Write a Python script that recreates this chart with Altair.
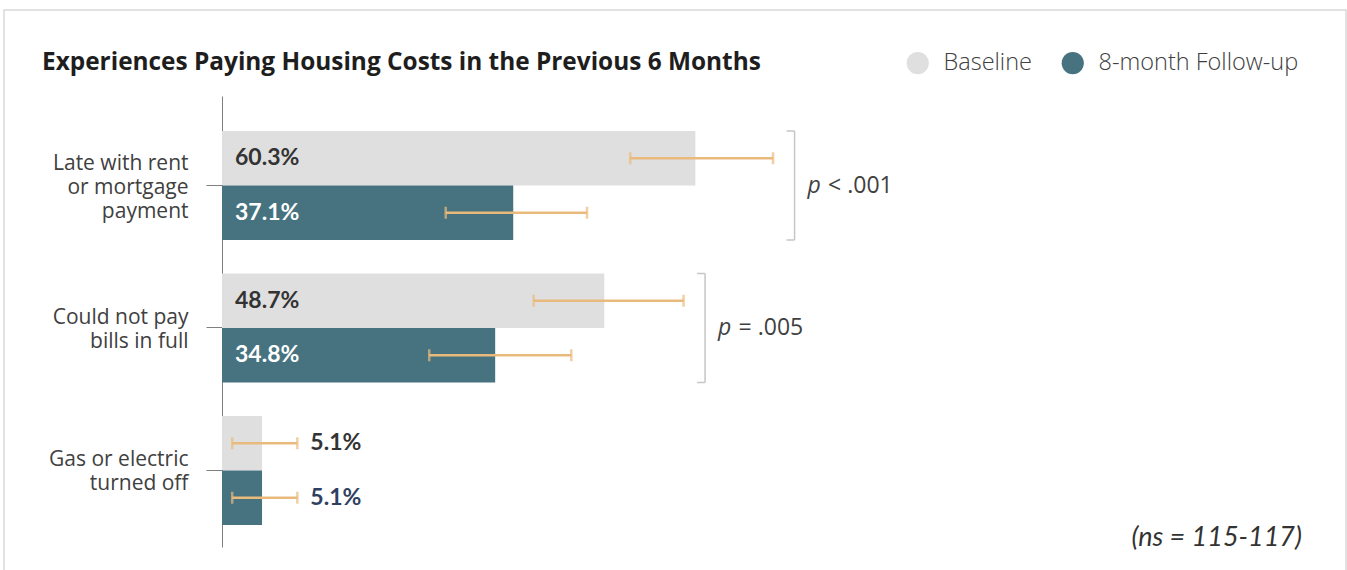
import altair as alt
import pandas as pd

# ---- data -------------------------------------------------------------
categories = [
    "Late with rent\nor mortgage\npayment",
    "Could not pay\nbills in full",
    "Gas or electric\nturned off",
]
series = ["Baseline", "8-month Follow-up"]

baseline = [60.3, 48.7, 5.1]
baseline_low = [52.0, 39.7, 1.3]
baseline_high = [70.2, 58.8, 9.6]

followup = [37.1, 34.8, 5.1]
followup_low = [28.5, 26.4, 1.3]
followup_high = [46.5, 44.5, 9.6]

p_values = ["< .001", "= .005", ""]

title_text = "Experiences Paying Housing Costs in the Previous 6 Months"
note_text = "(ns = 115-117)"

# ---- tables -----------------------------------------------------------
rows = []
for i, cat in enumerate(categories):
    rows.append(dict(category=cat, series=series[0], value=baseline[i],
                     low=baseline_low[i], high=baseline_high[i]))
    rows.append(dict(category=cat, series=series[1], value=followup[i],
                     low=followup_low[i], high=followup_high[i]))
bars_df = pd.DataFrame(rows)

brackets_df = pd.DataFrame([
    dict(category=cat, edge=max(baseline_high[i], followup_high[i]), p=p_values[i])
    for i, cat in enumerate(categories) if p_values[i]
])

one_row = pd.DataFrame({"k": [0]})

# ---- styling ----------------------------------------------------------
GRAY_BAR = "#DFDFDF"
TEAL_BAR = "#46737F"
ERR = "#E9BA7C"
BRACKET = "#C6C6C6"
TEXT = "#404040"
LINE_H = 24

W, H = 785, 451
PAD = {"left": 222, "top": 96, "right": 1347 - 222 - W, "bottom": 570 - 96 - H}

x_scale = alt.Scale(domain=[0, 100])
y_scale = alt.Scale(domain=categories, paddingInner=0.235, paddingOuter=0.2, align=0.614)
y_axis = alt.Axis(
    title=None, grid=False,
    domainColor="#7F7F7F", domainWidth=1,
    tickColor="#7F7F7F", tickWidth=1, tickSize=16,
    labelPadding=18, labelFont="Open Sans", labelFontSize=21,
    labelColor=TEXT, labelLineHeight=LINE_H, labelLimit=300,
    labelExpr="split(datum.label, '\\n')",
    # centre multi-line labels on their tick
    labelOffset={"expr": f"2 - (length(split(datum.label, '\\n')) - 1) * {LINE_H / 2}"},
)


def y_enc(band=None):
    if band is None:
        return alt.Y("category:N", sort=categories, scale=y_scale, axis=y_axis)
    return alt.Y("category:N", sort=categories, scale=y_scale, axis=y_axis, bandPosition=band)


y_off = alt.YOffset("series:N", sort=series,
                    scale=alt.Scale(domain=series, paddingInner=0, paddingOuter=0))

base = alt.Chart(bars_df)

bars = base.mark_bar().encode(
    x=alt.X("value:Q", scale=x_scale, axis=None),
    y=y_enc(),
    yOffset=y_off,
    color=alt.Color(
        "series:N", sort=series,
        scale=alt.Scale(domain=series, range=[GRAY_BAR, TEAL_BAR]),
        legend=alt.Legend(
            orient="none", legendX=684, legendY=-45, direction="horizontal",
            title=None, symbolType="circle", symbolSize=490, symbolStrokeWidth=0,
            symbolOpacity=1, labelFont="Open Sans", labelFontSize=23.5,
            labelFontWeight=300, labelColor=TEXT, labelOffset=14, labelLimit=400,
            columnPadding=29, padding=0,
        ),
    ),
)

err_line = base.mark_rule(color=ERR, strokeWidth=2.5).encode(
    x=alt.X("low:Q", scale=x_scale, axis=None), x2="high:Q", y=y_enc(), yOffset=y_off
)
cap_low = base.mark_tick(color=ERR, thickness=2.5, size=12).encode(
    x=alt.X("low:Q", scale=x_scale, axis=None), y=y_enc(), yOffset=y_off
)
cap_high = base.mark_tick(color=ERR, thickness=2.5, size=12).encode(
    x=alt.X("high:Q", scale=x_scale, axis=None), y=y_enc(), yOffset=y_off
)

value_labels = base.transform_calculate(
    label="format(datum.value, '.1f') + '%'",
    label_x="datum.value > 15 ? 0 : datum.high",
    label_color=(
        "datum.value > 15 ? (datum.series == 'Baseline' ? '#333333' : '#FFFFFF')"
        " : (datum.series == 'Baseline' ? '#333333' : '#2F3F5F')"
    ),
).mark_text(align="left", baseline="middle", font="Lato", fontWeight="bold",
            fontSize=23, dx=13).encode(
    x=alt.X("label_x:Q", scale=x_scale, axis=None),
    y=y_enc(),
    yOffset=y_off,
    text="label:N",
    fill=alt.Fill("label_color:N", scale=None),
)

# significance brackets to the right of each pair
br = alt.Chart(brackets_df)
bracket_v = br.mark_rect(fillOpacity=0, stroke=BRACKET, strokeWidth=1.5,
                         xOffset=21.5, x2Offset=21.5).encode(
    x=alt.X("edge:Q", scale=x_scale, axis=None), x2="edge:Q", y=y_enc()
)
bracket_top = br.mark_rule(color=BRACKET, strokeWidth=1.5,
                           xOffset=13.5, x2Offset=21.5).encode(
    x=alt.X("edge:Q", scale=x_scale, axis=None), x2="edge:Q", y=y_enc(0)
)
bracket_bottom = br.mark_rule(color=BRACKET, strokeWidth=1.5,
                              xOffset=13.5, x2Offset=21.5).encode(
    x=alt.X("edge:Q", scale=x_scale, axis=None), x2="edge:Q", y=y_enc(1)
)
p_letter = br.mark_text(align="left", baseline="middle", font="Open Sans",
                        fontStyle="italic", fontSize=23, color=TEXT, dx=34.5).encode(
    x=alt.X("edge:Q", scale=x_scale, axis=None), y=y_enc(), text=alt.value("p")
)
p_rest = br.mark_text(align="left", baseline="middle", font="Open Sans",
                      fontSize=23, color=TEXT, dx=55).encode(
    x=alt.X("edge:Q", scale=x_scale, axis=None), y=y_enc(), text="p:N"
)

# frame, heading and footnote
single = alt.Chart(one_row)
frame = single.mark_rect(fillOpacity=0, stroke="#D9D9D9", strokeWidth=1.5).encode(
    x=alt.value(-218), x2=alt.value(1124), y=alt.value(-86), y2=alt.value(482)
)
heading = single.mark_text(align="left", baseline="middle", font="Open Sans",
                           fontWeight="bold", fontSize=24.4, color="#1E1E1E").encode(
    x=alt.value(-180), y=alt.value(-33), text=alt.value(title_text)
)
note = single.mark_text(align="right", baseline="middle", font="Lato",
                        fontStyle="italic", fontSize=27, color="#333333").encode(
    x=alt.value(1080), y=alt.value(442), text=alt.value(note_text)
)

chart = alt.layer(
    frame, heading, note,
    bars, err_line, cap_low, cap_high, value_labels,
    bracket_v, bracket_top, bracket_bottom, p_letter, p_rest,
).properties(
    width=W, height=H, padding=PAD,
    autosize=alt.AutoSizeParams(type="none"),
).configure_view(strokeWidth=0)

chart.save("out.html", embed_options={"renderer": "svg", "actions": False})
